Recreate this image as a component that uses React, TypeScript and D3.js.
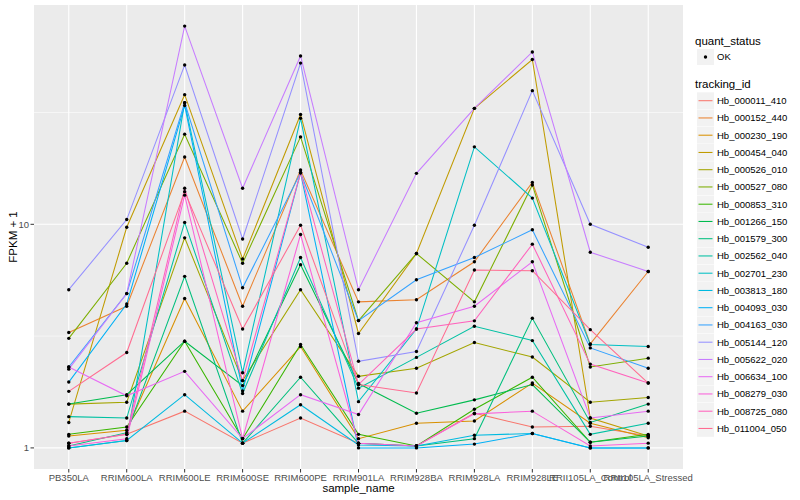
import React, { useEffect } from 'react';
import * as d3 from 'd3';

const samples = [
  'PB350LA', 'RRIM600LA', 'RRIM600LE', 'RRIM600SE', 'RRIM600PE', 'RRIM901LA',
  'RRIM928BA', 'RRIM928LA', 'RRIM928LE', 'RRII105LA_Control', 'RRII105LA_Stressed',
];

const trackingIds = [
  'Hb_000011_410', 'Hb_000152_440', 'Hb_000230_190', 'Hb_000454_040', 'Hb_000526_010',
  'Hb_000527_080', 'Hb_000853_310', 'Hb_001266_150', 'Hb_001579_300', 'Hb_002562_040',
  'Hb_002701_230', 'Hb_003813_180', 'Hb_004093_030', 'Hb_004163_030', 'Hb_005144_120',
  'Hb_005622_020', 'Hb_006634_100', 'Hb_008279_030', 'Hb_008725_080', 'Hb_011004_050',
];

// FPKM + 1, one row per tracking_id, columns in the order of samples
const fpkm: number[][] = [
  [1.05, 1.15, 1.46, 1.05, 1.36, 1.05, 1.02, 1.43, 1.24, 1.25, 1.13],
  [3.28, 4.3, 20, 4.3, 17.5, 4.5, 4.6, 6.8, 15.4, 2.92, 6.15],
  [1.13, 1.2, 4.66, 1.46, 2.84, 1.1, 1.29, 1.32, 1.95, 1.29, 1.11],
  [1.3, 9.7, 38, 7.0, 31, 3.25, 7.4, 33, 54.6, 1.36, 1.13],
  [1.57, 1.6, 8.7, 2.0, 5.1, 2.09, 2.27, 2.96, 2.55, 1.6, 1.68],
  [3.09, 6.7, 25.3, 6.7, 24.6, 3.71, 7.4, 4.5, 15, 2.3, 2.52],
  [1.15, 1.24, 3.0, 1.1, 2.9, 1.15, 1.02, 1.49, 2.07, 1.06, 1.15],
  [1.57, 1.73, 3.0, 1.9, 6.6, 1.94, 1.43, 1.64, 1.92, 1.06, 1.13],
  [1.02, 1.17, 5.85, 1.05, 2.07, 1.05, 1.02, 1.1, 3.8, 1.3, 1.57],
  [1.38, 1.36, 10.2, 1.75, 7.1, 1.85, 2.54, 3.5, 3.02, 1.15, 1.29],
  [1.0, 1.08, 35, 2.17, 29.8, 1.61, 3.4, 22.2, 13.1, 2.9, 2.84],
  [1.0, 1.08, 1.73, 1.05, 1.56, 1.03, 1.02, 1.14, 1.16, 1.0, 1.0],
  [1.97, 4.4, 34, 1.8, 17, 1.0, 1.0, 1.04, 1.16, 1.0, 1.0],
  [2.3, 4.9, 35, 5.2, 17, 3.71, 5.65, 7.1, 9.45, 2.8, 2.27],
  [5.1, 10.5, 51.6, 8.6, 52.6, 2.44, 2.7, 9.9, 39.6, 10.0, 7.9],
  [2.25, 4.9, 77, 14.5, 56.6, 5.1, 16.9, 33, 59, 7.5, 6.15],
  [2.3, 1.71, 2.2, 1.1, 1.73, 1.41, 3.63, 4.3, 6.8, 1.36, 1.46],
  [1.02, 1.1, 13.5, 1.1, 9.0, 1.05, 1.02, 1.42, 1.46, 1.02, 1.05],
  [1.05, 1.15, 14.5, 2.0, 17, 1.92, 3.4, 3.7, 8.15, 2.37, 1.95],
  [1.79, 2.67, 14, 3.4, 9.9, 1.92, 1.76, 6.25, 6.2, 3.38, 1.95],
];

const palette = [
  '#F8766D', '#EA8331', '#D89000', '#C09B00', '#A3A500', '#7CAE00', '#39B600', '#00BB4E',
  '#00BF7D', '#00C1A3', '#00BFC4', '#00BAE0', '#00B0F6', '#35A2FF', '#9590FF', '#C77CFF',
  '#E76BF3', '#FA62DB', '#FF62BC', '#FF6C91',
];

const font = '"Liberation Sans", Arial, Helvetica, sans-serif';

export default function App() {
  useEffect(() => {
    document.body.style.margin = '0';
  }, []);

  const panel = { left: 34, right: 683, top: 5, bottom: 469 };

  const x = d3.scalePoint<string>().domain(samples).range([panel.left, panel.right]).padding(0.6);

  const logs = fpkm.flat().map((v) => Math.log10(v));
  const [lo, hi] = d3.extent(logs) as [number, number];
  const pad = (hi - lo) * 0.05;
  const y = d3
    .scaleLog()
    .domain([Math.pow(10, lo - pad), Math.pow(10, hi + pad)])
    .range([panel.bottom, panel.top]);

  const majorY = [1, 10, 100].filter((v) => y(v) >= panel.top && y(v) <= panel.bottom);
  const minorY = [Math.sqrt(10), 10 * Math.sqrt(10), Math.sqrt(0.1)].filter(
    (v) => y(v) >= panel.top && y(v) <= panel.bottom
  );

  const line = d3
    .line<number>()
    .x((_, i) => x(samples[i]) as number)
    .y((v) => y(v));

  const legendX = 697;
  const itemY0 = 100.7;
  const itemStep = 17.25;

  return (
    <svg width={800} height={500} style={{ display: 'block', fontFamily: font }}>
      <rect width={800} height={500} fill="#fff" />
      <rect
        x={panel.left}
        y={panel.top}
        width={panel.right - panel.left}
        height={panel.bottom - panel.top}
        fill="#EBEBEB"
      />
      {minorY.map((v) => (
        <line key={'mn' + v} x1={panel.left} x2={panel.right} y1={y(v)} y2={y(v)} stroke="#fff" strokeWidth={0.55} />
      ))}
      {majorY.map((v) => (
        <line key={'mj' + v} x1={panel.left} x2={panel.right} y1={y(v)} y2={y(v)} stroke="#fff" strokeWidth={1.1} />
      ))}
      {samples.map((s) => (
        <line key={'vx' + s} x1={x(s)} x2={x(s)} y1={panel.top} y2={panel.bottom} stroke="#fff" strokeWidth={1.1} />
      ))}

      {fpkm.map((row, i) => (
        <path key={trackingIds[i]} d={line(row) || ''} fill="none" stroke={palette[i]} strokeWidth={1.05} />
      ))}
      {fpkm.map((row, i) =>
        row.map((v, j) => (
          <circle key={i + '-' + j} cx={x(samples[j])} cy={y(v)} r={1.7} fill="#000" />
        ))
      )}

      {/* y axis */}
      {majorY.map((v) => (
        <g key={'yt' + v}>
          <line x1={panel.left - 3.5} x2={panel.left} y1={y(v)} y2={y(v)} stroke="#333" strokeWidth={1} />
          <text x={panel.left - 5} y={y(v)} dy="0.35em" textAnchor="end" fontSize={9.5} fill="#4D4D4D">
            {v}
          </text>
        </g>
      ))}
      {/* x axis */}
      {samples.map((s) => (
        <g key={'xt' + s}>
          <line x1={x(s)} x2={x(s)} y1={panel.bottom} y2={panel.bottom + 3.5} stroke="#333" strokeWidth={1} />
          <text x={x(s)} y={panel.bottom + 12} textAnchor="middle" fontSize={9.5} fill="#4D4D4D">
            {s}
          </text>
        </g>
      ))}
      <text x={(panel.left + panel.right) / 2} y={492} textAnchor="middle" fontSize={11.5} fill="#000">
        sample_name
      </text>
      <text
        transform={`translate(17,${(panel.top + panel.bottom) / 2}) rotate(-90)`}
        textAnchor="middle"
        fontSize={11.5}
        fill="#000"
      >
        FPKM + 1
      </text>

      {/* legend: quant_status */}
      <text x={legendX - 2} y={45} fontSize={11.5} fill="#000">
        quant_status
      </text>
      <rect x={legendX} y={49} width={17} height={16} fill="#F2F2F2" />
      <circle cx={legendX + 8.5} cy={57} r={1.7} fill="#000" />
      <text x={legendX + 20} y={57} dy="0.35em" fontSize={9.5} fill="#000">
        OK
      </text>

      {/* legend: tracking_id */}
      <text x={legendX - 2} y={87.5} fontSize={11.5} fill="#000">
        tracking_id
      </text>
      {trackingIds.map((id, i) => {
        const cy = itemY0 + i * itemStep;
        return (
          <g key={'lg' + id}>
            <rect x={legendX} y={cy - 8.4} width={17} height={16.8} fill="#F2F2F2" />
            <line x1={legendX + 1.5} x2={legendX + 15.5} y1={cy} y2={cy} stroke={palette[i]} strokeWidth={1.05} />
            <text x={legendX + 20} y={cy} dy="0.35em" fontSize={9.5} fill="#000">
              {id}
            </text>
          </g>
        );
      })}
    </svg>
  );
}
